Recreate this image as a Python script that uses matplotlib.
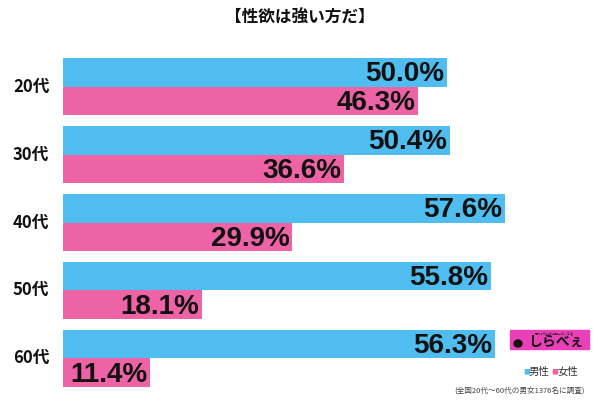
import matplotlib
matplotlib.use("Agg")
import matplotlib.pyplot as plt
from matplotlib.patches import Rectangle, Ellipse

plt.rcParams["font.family"] = ["Noto Sans CJK JP", "DejaVu Sans"]

title = "【性欲は強い方だ】"
ages = ["20代", "30代", "40代", "50代", "60代"]
male = [50.0, 50.4, 57.6, 55.8, 56.3]
female = [46.3, 36.6, 29.9, 18.1, 11.4]
series_names = ["男性", "女性"]
note = "(全国20代～60代の男女1376名に調査)"

BLUE = "#4fbdf0"
PINK = "#ee63a5"
h = 0.422

fig = plt.figure(figsize=(6.0, 4.03), dpi=100)
ax = fig.add_axes([0.105, 0.0397, 0.895, 0.8163])

ys = list(range(len(ages)))
ym = [y - h / 2 for y in ys]
yf = [y + h / 2 for y in ys]
ax.barh(ym, male, height=h, color=BLUE, edgecolor="none")
ax.barh(yf, female, height=h, color=PINK, edgecolor="none")

label_kw = dict(ha="right", va="center", fontsize=20, fontweight="bold",
                family="Liberation Sans", color="#111111")
for y, v in zip(ym, male):
    ax.text(v - 0.35, y + 0.03, f"{v:.1f}%", **label_kw)
for y, v in zip(yf, female):
    ax.text(v - 0.35, y + 0.03, f"{v:.1f}%", **label_kw)

ax.set_xlim(0, 70)
ax.set_ylim(4 + h, -h)
ax.axis("off")

for y, lab in zip(ys, ages):
    fig.text(0.052, 1 - (58 + (y + h) * 67.9) / 403, lab, ha="center", va="center",
             fontsize=12, fontweight="bold", color="#111111")

fig.text(0.5, 0.955, title, ha="center", va="center", fontsize=12,
         fontweight="bold", color="#111111")

# logo
fig.patches.append(Rectangle((510 / 600, 1 - 349 / 403), 79 / 600, 19 / 403,
                             transform=fig.transFigure, color="#ea3fb6", zorder=3))
fig.patches.append(Ellipse((518 / 600, 1 - 343.5 / 403), 8 / 600, 7 / 403,
                           transform=fig.transFigure, color="#111111", zorder=4))
fig.text(554 / 600, 1 - 332.8 / 403, "思わずだれかに話したくなる", ha="center", va="center",
         fontsize=2.2, color="#111111", zorder=4)
fig.text(556 / 600, 1 - 342 / 403, "しらべぇ", ha="center", va="center",
         fontsize=10, fontweight="bold", color="#111111", zorder=4)

# legend
fig.text(523 / 600, 1 - 372 / 403, "■", ha="left", va="center", fontsize=5, color=BLUE)
fig.text(529 / 600, 1 - 372 / 403, series_names[0], ha="left", va="center", fontsize=7.5,
         color="#333333")
fig.text(551 / 600, 1 - 372 / 403, "■", ha="left", va="center", fontsize=5, color=PINK)
fig.text(557 / 600, 1 - 372 / 403, series_names[1], ha="left", va="center", fontsize=7.5,
         color="#333333")

fig.text(585 / 600, 1 - 391 / 403, note, ha="right", va="center", fontsize=5.5,
         color="#444444")

fig.savefig("out.png", dpi=100)
